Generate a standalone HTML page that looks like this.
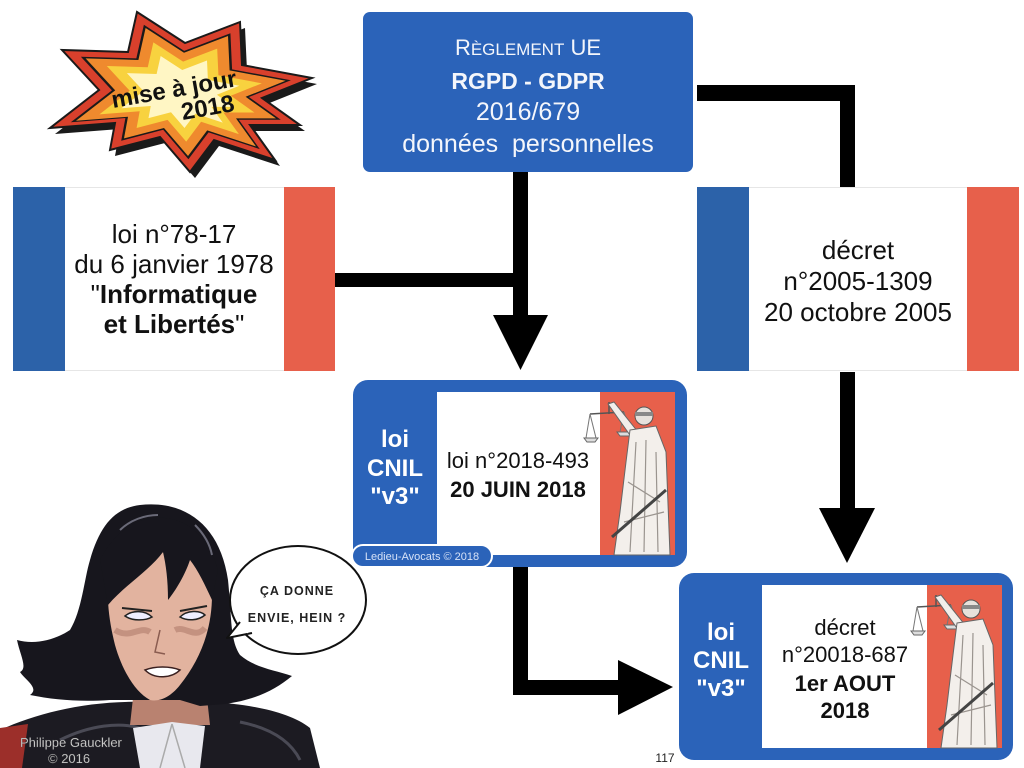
<!DOCTYPE html>
<html><head><meta charset="utf-8"><style>
html,body{margin:0;padding:0;background:#fff;}
svg{display:block;}
text{font-family:"Liberation Sans",Arial,sans-serif;}
</style></head><body>
<svg width="1024" height="768" viewBox="0 0 1024 768" xmlns="http://www.w3.org/2000/svg">
<rect width="1024" height="768" fill="#fff"/>

<!-- Starburst -->
<g>
  <polygon transform="translate(5 6)" fill="#1a1a1a" points="137,12 185,43 240,22 242,65 312,78 262,98 300,125 250,125 275,160 214,140 190,172 160,137 110,150 115,123 50,128 99,90 62,50 128,52"/>
  <polygon fill="#d8402c" stroke="#1a1a1a" stroke-width="2" points="137,12 185,43 240,22 242,65 312,78 262,98 300,125 250,125 275,160 214,140 190,172 160,137 110,150 115,123 50,128 99,90 62,50 128,52"/>
  <polygon transform="translate(180 92) scale(0.84) translate(-180 -92)" fill="#1a1a1a" points="137,12 185,43 240,22 242,65 312,78 262,98 300,125 250,125 275,160 214,140 190,172 160,137 110,150 115,123 50,128 99,90 62,50 128,52"/>
  <polygon transform="translate(180 92) scale(0.8) translate(-180 -92)" fill="#ef8a2e" points="137,12 185,43 240,22 242,65 312,78 262,98 300,125 250,125 275,160 214,140 190,172 160,137 110,150 115,123 50,128 99,90 62,50 128,52"/>
  <polygon transform="translate(180 92) scale(0.62) translate(-180 -92)" fill="#f8d23f" points="137,12 185,43 240,22 242,65 312,78 262,98 300,125 250,125 275,160 214,140 190,172 160,137 110,150 115,123 50,128 99,90 62,50 128,52"/>
  <polygon transform="translate(180 92) scale(0.45) translate(-180 -92)" fill="#fff6c4" points="137,12 185,43 240,22 242,65 312,78 262,98 300,125 250,125 275,160 214,140 190,172 160,137 110,150 115,123 50,128 99,90 62,50 128,52"/>
  <g transform="rotate(-10 175 95)">
    <text x="175" y="97" text-anchor="middle" font-size="24" font-weight="bold" fill="#111">mise à jour</text>
    <text x="205" y="121" text-anchor="middle" font-size="24" font-weight="bold" fill="#111">2018</text>
  </g>
</g>

<!-- Top box -->
<rect x="363" y="12" width="330" height="160" rx="7" fill="#2b63b9"/>
<text x="528" y="55" text-anchor="middle" fill="#f4f6fb" font-size="22"><tspan>R</tspan><tspan font-size="17">ÈGLEMENT</tspan><tspan> U</tspan><tspan>E</tspan></text>
<text x="528" y="89" text-anchor="middle" fill="#f4f6fb" font-size="23" font-weight="bold">RGPD - GDPR</text>
<text x="528" y="120" text-anchor="middle" fill="#f4f6fb" font-size="25">2016/679</text>
<text x="528" y="152" text-anchor="middle" fill="#f4f6fb" font-size="25" xml:space="preserve">données  personnelles</text>

<!-- Connectors -->
<rect x="697" y="85" width="158" height="16" fill="#000"/>
<rect x="840" y="85" width="15" height="102" fill="#000"/>
<rect x="513" y="172" width="15" height="145" fill="#000"/>
<polygon points="493,315 548,315 520.5,370" fill="#000"/>
<rect x="335" y="273" width="186" height="14" fill="#000"/>
<rect x="840" y="372" width="15" height="138" fill="#000"/>
<polygon points="819,508 875,508 847,563" fill="#000"/>
<rect x="513" y="567" width="15" height="128" fill="#000"/>
<rect x="513" y="680" width="107" height="15" fill="#000"/>
<polygon points="618,660 618,715 673,687" fill="#000"/>

<!-- Left flag -->
<rect x="13" y="187" width="322" height="184" fill="#fff"/>
<line x1="65" y1="187.5" x2="285" y2="187.5" stroke="#e6e6e6"/>
<line x1="65" y1="370.5" x2="285" y2="370.5" stroke="#e6e6e6"/>
<rect x="13" y="187" width="52" height="184" fill="#2c62a9"/>
<rect x="284" y="187" width="51" height="184" fill="#e7604b"/>
<text x="174" y="243" text-anchor="middle" font-size="26" fill="#111">loi n°78-17</text>
<text x="174" y="273" text-anchor="middle" font-size="26" fill="#111">du 6 janvier 1978</text>
<text x="174" y="303" text-anchor="middle" font-size="26" fill="#111">"<tspan font-weight="bold">Informatique</tspan></text>
<text x="174" y="333" text-anchor="middle" font-size="26" fill="#111"><tspan font-weight="bold">et Libertés</tspan>"</text>

<!-- Right flag -->
<line x1="749" y1="187.5" x2="967" y2="187.5" stroke="#e6e6e6"/>
<line x1="749" y1="370.5" x2="967" y2="370.5" stroke="#e6e6e6"/>
<rect x="697" y="187" width="52" height="184" fill="#2c62a9"/>
<rect x="967" y="187" width="52" height="184" fill="#e7604b"/>
<text x="858" y="259" text-anchor="middle" font-size="26" fill="#111">décret</text>
<text x="858" y="290" text-anchor="middle" font-size="26" fill="#111">n°2005-1309</text>
<text x="858" y="321" text-anchor="middle" font-size="26" fill="#111">20 octobre 2005</text>

<!-- Middle box: loi CNIL -->
<rect x="353" y="380" width="334" height="187" rx="15" fill="#2b63b9"/>
<rect x="437" y="392" width="163" height="163" fill="#fff"/>
<rect x="600" y="392" width="75" height="163" fill="#e7604b"/>
<g transform="translate(600 392)">
  <line x1="9" y1="10" x2="9" y2="22" stroke="#555" stroke-width="1.5"/>
  <line x1="-10" y1="22" x2="24" y2="20" stroke="#555" stroke-width="1.5"/>
  <line x1="-10" y1="22" x2="-14" y2="46" stroke="#777" stroke-width="1"/>
  <line x1="-10" y1="22" x2="-4" y2="46" stroke="#777" stroke-width="1"/>
  <path d="M-16,46 L-2,46 L-5,50 L-13,50 Z" fill="#ddd" stroke="#666"/>
  <line x1="24" y1="20" x2="20" y2="40" stroke="#777" stroke-width="1"/>
  <line x1="24" y1="20" x2="30" y2="40" stroke="#777" stroke-width="1"/>
  <path d="M17,40 L33,40 L30,44 L20,44 Z" fill="#ddd" stroke="#666"/>
  <path d="M8,12 L14,10 L38,40 L32,46 Z" fill="#f2eeea" stroke="#666" stroke-width="1"/>
  <circle cx="44" cy="24" r="9" fill="#e6e1dc" stroke="#555"/>
  <rect x="35" y="20" width="18" height="4" fill="#888"/>
  <path d="M30,38 L56,34 L66,60 L70,163 L14,163 L20,120 L26,70 Z" fill="#f3efeb" stroke="#666" stroke-width="1"/>
  <path d="M36,50 L30,160 M46,48 L44,160 M56,60 L58,160 M28,90 L60,110 M24,130 L64,120" stroke="#9a948f" stroke-width="1.2" fill="none"/>
  <line x1="12" y1="145" x2="66" y2="98" stroke="#444" stroke-width="3"/>
</g>
<text x="395" y="447" text-anchor="middle" font-size="24" font-weight="bold" fill="#fff">loi</text>
<text x="395" y="476" text-anchor="middle" font-size="24" font-weight="bold" fill="#fff">CNIL</text>
<text x="395" y="504" text-anchor="middle" font-size="24" font-weight="bold" fill="#fff">"v3"</text>
<text x="518" y="468" text-anchor="middle" font-size="22" fill="#111">loi n°2018-493</text>
<text x="518" y="497" text-anchor="middle" font-size="22" font-weight="bold" fill="#111">20 JUIN 2018</text>
<rect x="352" y="545" width="140" height="22" rx="11" fill="#2b63b9" stroke="#fff" stroke-width="2"/>
<text x="422" y="560" text-anchor="middle" font-size="11" fill="#d6e2f7">Ledieu-Avocats © 2018</text>

<!-- Bottom right box -->
<rect x="679" y="573" width="334" height="187" rx="15" fill="#2b63b9"/>
<rect x="762" y="585" width="165" height="163" fill="#fff"/>
<rect x="927" y="585" width="75" height="163" fill="#e7604b"/>
<g transform="translate(927 585)">
  <line x1="9" y1="10" x2="9" y2="22" stroke="#555" stroke-width="1.5"/>
  <line x1="-10" y1="22" x2="24" y2="20" stroke="#555" stroke-width="1.5"/>
  <line x1="-10" y1="22" x2="-14" y2="46" stroke="#777" stroke-width="1"/>
  <line x1="-10" y1="22" x2="-4" y2="46" stroke="#777" stroke-width="1"/>
  <path d="M-16,46 L-2,46 L-5,50 L-13,50 Z" fill="#ddd" stroke="#666"/>
  <line x1="24" y1="20" x2="20" y2="40" stroke="#777" stroke-width="1"/>
  <line x1="24" y1="20" x2="30" y2="40" stroke="#777" stroke-width="1"/>
  <path d="M17,40 L33,40 L30,44 L20,44 Z" fill="#ddd" stroke="#666"/>
  <path d="M8,12 L14,10 L38,40 L32,46 Z" fill="#f2eeea" stroke="#666" stroke-width="1"/>
  <circle cx="44" cy="24" r="9" fill="#e6e1dc" stroke="#555"/>
  <rect x="35" y="20" width="18" height="4" fill="#888"/>
  <path d="M30,38 L56,34 L66,60 L70,163 L14,163 L20,120 L26,70 Z" fill="#f3efeb" stroke="#666" stroke-width="1"/>
  <path d="M36,50 L30,160 M46,48 L44,160 M56,60 L58,160 M28,90 L60,110 M24,130 L64,120" stroke="#9a948f" stroke-width="1.2" fill="none"/>
  <line x1="12" y1="145" x2="66" y2="98" stroke="#444" stroke-width="3"/>
</g>
<text x="721" y="640" text-anchor="middle" font-size="24" font-weight="bold" fill="#fff">loi</text>
<text x="721" y="668" text-anchor="middle" font-size="24" font-weight="bold" fill="#fff">CNIL</text>
<text x="721" y="696" text-anchor="middle" font-size="24" font-weight="bold" fill="#fff">"v3"</text>
<text x="845" y="635" text-anchor="middle" font-size="22" fill="#111">décret</text>
<text x="845" y="662" text-anchor="middle" font-size="22" fill="#111">n°20018-687</text>
<text x="845" y="691" text-anchor="middle" font-size="22" font-weight="bold" fill="#111">1er AOUT</text>
<text x="845" y="718" text-anchor="middle" font-size="22" font-weight="bold" fill="#111">2018</text>

<text x="665" y="762" text-anchor="middle" font-size="12" fill="#222">117</text>

<!-- Woman illustration (approximation) -->
<g>
  <path d="M0,730 C40,712 90,700 150,702 L210,702 C250,704 290,712 310,728 L320,768 L0,768 Z" fill="#1c1b22"/>
  <path d="M0,728 L28,724 L22,768 L0,768 Z" fill="#9c2f2a"/>
  <path d="M60,740 C90,725 120,722 140,728 M240,722 C270,728 290,740 300,760" stroke="#4a4a55" stroke-width="3" fill="none"/>
  <path d="M135,680 L205,680 L210,725 L130,725 Z" fill="#b98270"/>
  <path d="M133,728 L172,722 L205,726 L200,768 L140,768 Z" fill="#e8e8ee"/>
  <path d="M172,724 L160,768 M172,724 L185,768" stroke="#aaa" stroke-width="1.5"/>
  <path d="M140,505 C185,500 220,525 228,580 C232,620 230,640 240,655 C255,668 275,670 292,676 C275,690 255,700 225,704 L200,706 L180,700 L110,700 C80,702 55,700 30,695 C40,688 25,680 20,672 C28,668 20,655 17,640 C35,645 55,640 70,630 C82,610 84,580 90,560 C100,525 115,508 140,505 Z" fill="#17161d"/>
  <path d="M108,585 C110,565 135,555 165,552 C195,556 210,572 212,595 C212,630 200,660 180,685 C170,698 158,702 150,700 C135,692 122,670 115,645 C110,625 107,605 108,585 Z" fill="#e2b39f"/>
  <path d="M115,630 C130,640 140,625 150,632 M175,630 C185,625 195,640 205,628" stroke="#b07b6c" stroke-width="6" fill="none" opacity="0.6"/>
  <path d="M100,560 C115,530 140,515 165,518 C190,520 210,540 218,570 L212,600 C205,585 198,570 190,560 C185,575 176,590 168,600 C168,580 166,565 163,552 C150,570 125,585 108,605 Z" fill="#17161d"/>
  <path d="M125,616 C132,610 145,610 152,617 C145,621 132,621 125,616 Z" fill="#eef" stroke="#222" stroke-width="1.5"/>
  <path d="M180,617 C187,610 200,610 205,615 C198,621 187,621 180,617 Z" fill="#eef" stroke="#222" stroke-width="1.5"/>
  <path d="M122,608 L152,611 M180,611 L207,606" stroke="#222" stroke-width="2"/>
  <path d="M160,630 L155,652 L165,654" stroke="#8a5c50" stroke-width="1.5" fill="none"/>
  <path d="M145,670 C155,666 170,666 180,670 C172,678 155,680 145,670 Z" fill="#fff" stroke="#3a2020" stroke-width="1.5"/>
  <path d="M120,530 C130,520 145,515 158,515 M195,525 C205,535 210,545 212,555" stroke="#6a6a78" stroke-width="2" fill="none"/>
  <text x="20" y="747" font-size="13" fill="#ddd" stroke="#555" stroke-width="0.3">Philippe Gauckler</text>
  <text x="48" y="763" font-size="13" fill="#ddd" stroke="#555" stroke-width="0.3">© 2016</text>
</g>

<!-- Speech bubble -->
<ellipse cx="298" cy="600" rx="68" ry="54" fill="#fff" stroke="#111" stroke-width="2"/>
<path d="M240,622 L227,638 L252,633" fill="#fff" stroke="#111" stroke-width="2" stroke-linejoin="round"/>
<path d="M241,623 L249,632" stroke="#fff" stroke-width="4"/>
<text x="297" y="595" text-anchor="middle" font-size="12.5" font-weight="bold" letter-spacing="1" fill="#222">ÇA DONNE</text>
<text x="297" y="622" text-anchor="middle" font-size="12.5" font-weight="bold" letter-spacing="1" fill="#222">ENVIE, HEIN ?</text>
</svg>
</body></html>
